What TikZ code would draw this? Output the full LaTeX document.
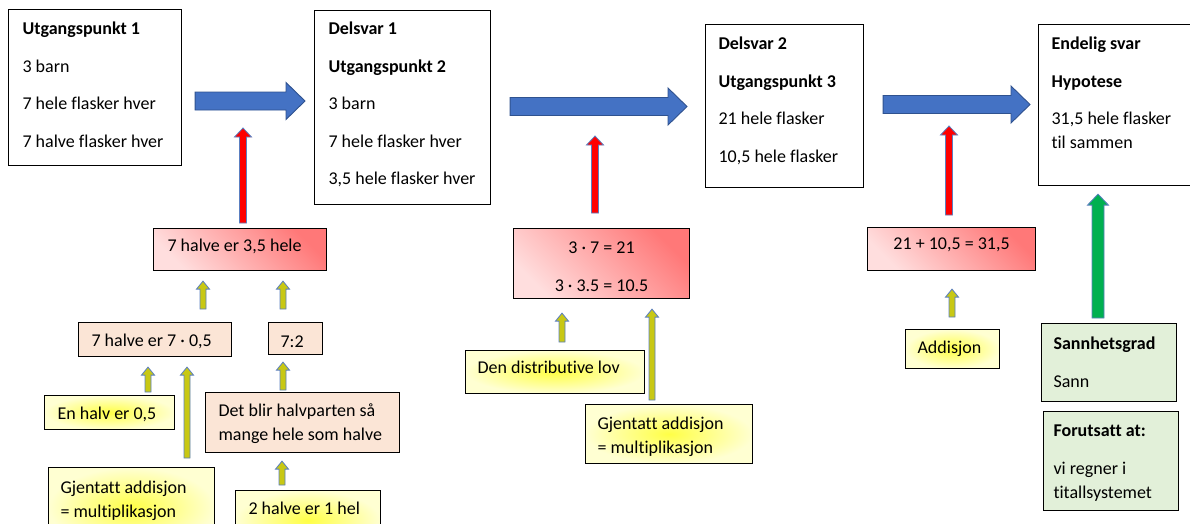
\documentclass[tikz,border=0pt]{standalone}
\usepackage{fontspec}
\setmainfont{Carlito}[Ligatures=NoCommon]
\usetikzlibrary{calc}
\definecolor{bluefill}{HTML}{4472C4}
\definecolor{blueline}{HTML}{2F528F}
\definecolor{arrline}{HTML}{5B7FC0}
\definecolor{yfill}{RGB}{200,200,20}
\definecolor{gfill}{HTML}{00B050}
\definecolor{peach}{HTML}{FBE5D6}
\definecolor{lgreen}{HTML}{E2F0D9}
\definecolor{redA}{RGB}{255,120,120}
\definecolor{redB}{RGB}{255,222,222}
\definecolor{yelA}{RGB}{255,255,70}
\definecolor{yelB}{RGB}{255,255,210}

\pgfkeys{/arr/sw/.initial=3,/arr/hw/.initial=6,/arr/hl/.initial=8}

% text box content: width, height, first baseline, left pad, text
\newcommand\TB[5]{\parbox[t][#2][t]{#1}{\leftskip=#4\relax\rightskip=0pt plus 1fil\relax\parfillskip=0pt plus 1fil\relax\vspace*{\dimexpr#3-\ht\strutbox\relax}\strut\parskip=13.5pt\relax #5\par}}

% vertical up block arrow: style, x, tail coord, tail gap, tip coord, tip gap
\newcommand\uarr[6]{%
  \filldraw[#1] let \p1=(#3), \p2=(#5),
    \n1={\pgfkeysvalueof{/arr/sw}}, \n2={\pgfkeysvalueof{/arr/hw}}, \n3={\pgfkeysvalueof{/arr/hl}},
    \n4={\y1+#4}, \n5={\y2-#6}
  in (#2-\n1,\n4) -- (#2-\n1,\n5-\n3) -- (#2-\n2,\n5-\n3) -- (#2,\n5) -- (#2+\n2,\n5-\n3) -- (#2+\n1,\n5-\n3) -- (#2+\n1,\n4) -- cycle;}

% horizontal right block arrow: style, y, tail coord, tail gap, tip coord, tip gap
\newcommand\rarr[6]{%
  \filldraw[#1] let \p1=(#3), \p2=(#5),
    \n1={\pgfkeysvalueof{/arr/sw}}, \n2={\pgfkeysvalueof{/arr/hw}}, \n3={\pgfkeysvalueof{/arr/hl}},
    \n4={\x1+#4}, \n5={\x2-#6}
  in (\n4,#2+\n1) -- (\n5-\n3,#2+\n1) -- (\n5-\n3,#2+\n2) -- (\n5,#2) -- (\n5-\n3,#2-\n2) -- (\n5-\n3,#2-\n1) -- (\n4,#2-\n1) -- cycle;}

\tikzset{
  every node/.style={inner sep=0pt, anchor=north west, font=\fontsize{18}{24}\selectfont},
  frame/.style={draw=black, line width=1.1pt},
  wbox/.style={frame, fill=white},
  rbox/.style={frame, top color=redA, bottom color=redB, shading angle=-45},
  pbox/.style={frame, fill=peach},
  ybox/.style={frame, inner color=yelA, outer color=yelB},
  gbox/.style={frame, fill=lgreen},
  bluearr/.style={fill=bluefill, draw=blueline, line width=0.9pt, /arr/sw=9, /arr/hw=18.5, /arr/hl=19},
  redarr/.style={fill=red, draw=arrline, line width=0.8pt, /arr/sw=3.5, /arr/hw=8.5, /arr/hl=9},
  yarr/.style={fill=yfill, draw=arrline, line width=0.8pt, /arr/sw=3, /arr/hw=6.5, /arr/hl=8},
  greenarr/.style={fill=gfill, draw=arrline, line width=0.8pt, /arr/sw=6, /arr/hw=10.5, /arr/hl=11},
}

\begin{document}
\begin{tikzpicture}[x=1pt, y=1pt]
\useasboundingbox (0,0) rectangle (1190,-523);
\clip (0,0) rectangle (1190,-523);

% main boxes
\node[wbox] (b1) at (8,-9) {\TB{173pt}{156pt}{25pt}{14pt}{\textbf{Utgangspunkt 1}\par 3 barn\par 7 hele flasker hver\par 7 halve flasker hver}};
\node[wbox] (b2) at (314,-10) {\TB{176pt}{194pt}{24pt}{14pt}{\textbf{Delsvar 1}\par\textbf{Utgangspunkt 2}\par 3 barn\par 7 hele flasker hver\par 3,5 hele flasker hver}};
\node[wbox] (b3) at (705,-24) {\TB{158pt}{163pt}{25pt}{13pt}{\textbf{Delsvar 2}\par\textbf{Utgangspunkt 3}\par 21 hele flasker\par 10,5 hele flasker}};
\node[wbox] (b4) at (1038,-24) {\TB{170pt}{161pt}{25pt}{13pt}{\textbf{Endelig svar}\par\textbf{Hypotese}\par 31,5 hele flasker\\til sammen}};

% red boxes
\node[rbox] (r1) at (153,-228) {\TB{173pt}{42pt}{23pt}{14pt}{7 halve er 3,5 hele}};
\node[rbox] (r2) at (513,-228) {\TB{176pt}{70pt}{25pt}{0pt}{\centering 3 · 7 = 21\par 3 · 3.5 = 10.5}};
\node[rbox] (r3) at (867,-227) {\TB{168pt}{43pt}{22pt}{0pt}{\centering 21 + 10,5 = 31,5}};

% peach boxes
\node[pbox] (p1) at (78,-322) {\TB{153pt}{34pt}{24pt}{13pt}{7 halve er 7 · 0,5}};
\node[pbox] (p2) at (268,-322) {\TB{54pt}{32pt}{25pt}{12pt}{7:2}};
\node[pbox] (p3) at (205,-392) {\TB{194pt}{60pt}{24pt}{13pt}{Det blir halvparten så\\mange hele som halve}};

% yellow boxes
\node[ybox] (y1) at (44,-395) {\TB{130pt}{34pt}{24pt}{13pt}{En halv er 0,5}};
\node[ybox] (y2) at (48,-467) {\TB{166pt}{80pt}{26pt}{12pt}{Gjentatt addisjon\\= multiplikasjon}};
\node[ybox] (y3) at (235,-490) {\TB{145pt}{60pt}{24pt}{13pt}{2 halve er 1 hel}};
\node[ybox] (y4) at (465,-350) {\TB{179pt}{43pt}{23pt}{12pt}{Den distributive lov}};
\node[ybox] (y5) at (585,-404) {\TB{167pt}{59pt}{25pt}{12pt}{Gjentatt addisjon\\= multiplikasjon}};
\node[ybox] (y6) at (905,-329) {\TB{94pt}{39pt}{24pt}{12pt}{Addisjon}};

% green boxes
\node[gbox] (g1) at (1041,-323) {\TB{135pt}{78pt}{26pt}{12pt}{\textbf{Sannhetsgrad}\par Sann}};
\node[gbox] (g2) at (1043,-411) {\TB{135pt}{99pt}{25pt}{10pt}{\textbf{Forutsatt at:}\par vi regner i\\titallsystemet}};

% tips of the red arrows (below the blue arrows)
\coordinate (t1) at (243,-128);
\coordinate (t2) at (595,-136);
\coordinate (t3) at (949,-126);

% blue arrows
\rarr{bluearr}{-101}{b1.east}{13}{b2.west}{9}
\rarr{bluearr}{-106.5}{b2.east}{19}{b3.west}{18}
\rarr{bluearr}{-104.5}{b3.east}{19}{b4.west}{8}

% red arrows
\uarr{redarr}{243}{r1.north}{5}{t1}{0}
\uarr{redarr}{595}{r2.north}{15}{t2}{0}
\uarr{redarr}{949}{r3.north}{12}{t3}{0}

% green arrow
\uarr{greenarr}{1098}{g1.north}{5}{b4.south}{8}

% yellow arrows
\uarr{yarr}{203}{p1.north}{13}{r1.south}{10}
\uarr{yarr}{283}{p2.north}{13}{r1.south}{10}
\uarr{yarr}{148}{y1.north}{3}{p1.south}{10}
\uarr{yarr}{187}{y2.north}{9}{p1.south}{10}
\uarr{yarr}{283}{p3.north}{2}{p2.south}{7}
\uarr{yarr}{282}{y3.north}{5}{p3.south}{8}
\uarr{yarr}{562}{y4.north}{8}{r2.south}{14}
\uarr{yarr}{652}{y5.north}{4}{r2.south}{10}
\uarr{yarr}{952}{y6.north}{12}{r3.south}{18}
\end{tikzpicture}
\end{document}
